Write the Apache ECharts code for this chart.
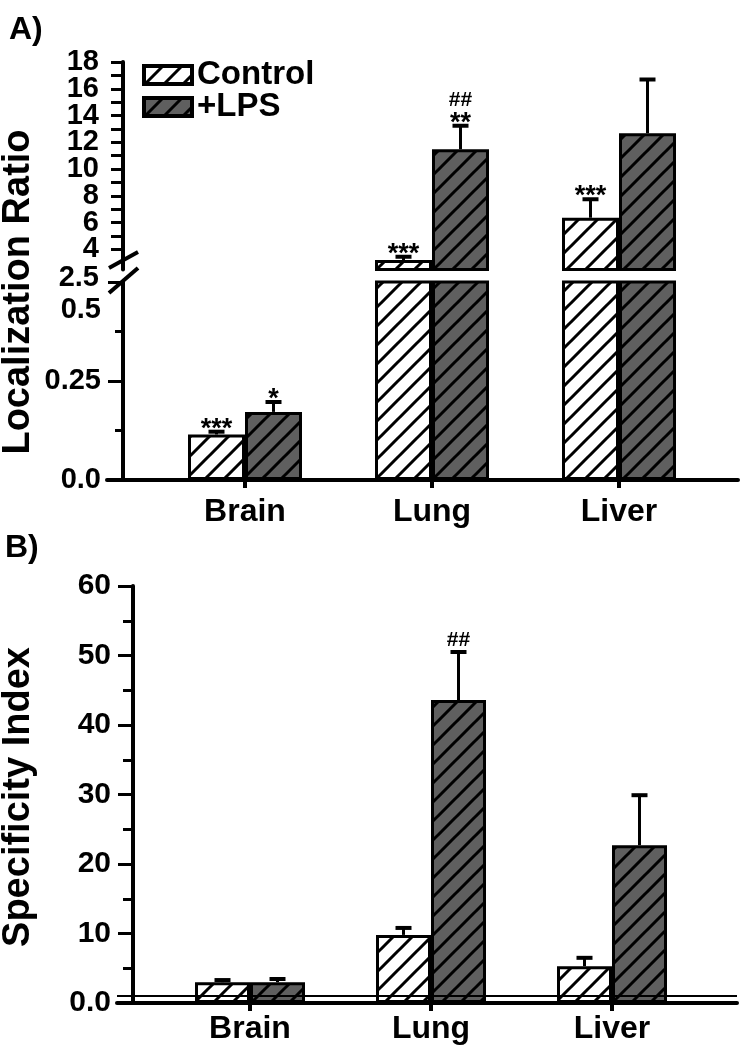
<!DOCTYPE html>
<html><head><meta charset="utf-8">
<script src="https://cdn.jsdelivr.net/npm/echarts@6/dist/echarts.min.js"></script>
<style>html,body{margin:0;padding:0;background:#fff}#c{width:742px;height:1050px}</style>
</head><body><div id="c"></div>
<script>
// ---------------- data ----------------
const categories = ['Brain', 'Lung', 'Liver'];
const seriesNames = ['Control', '+LPS'];

// Panel A: Localization Ratio (bar mean, top of error bar)
const ratioControl = [0.115, 3.21, 6.37];
const ratioControlErrTop = [0.122, 3.46, 7.75];
const ratioLPS = [0.172, 11.48, 12.67];
const ratioLPSErrTop = [0.197, 13.24, 16.7];
const ratioControlMarks = [['***'], ['***'], ['***']];
const ratioLPSMarks = [['*'], ['##', '**'], []];
const ratioLowerRange = [0, 0.5];
const ratioUpperRange = [2.5, 18];
const ratioUpperLabelValues = [2.5, 4, 6, 8, 10, 12, 14, 16, 18];
const ratioUpperTickValues = [4, 5, 6, 7, 8, 9, 10, 11, 12, 13, 14, 15, 16, 17, 18];

// Panel B: Specificity Index
const specControl = [3.0, 9.8, 5.3];
const specControlErrTop = [3.3, 10.8, 6.5];
const specLPS = [3.0, 43.6, 22.7];
const specLPSErrTop = [3.45, 50.5, 29.9];
const specControlMarks = [[], [], []];
const specLPSMarks = [[], ['##'], []];
const specRange = [0, 60];
const specReference = 1;

// ---------------- styles ----------------
const FONT = 'Liberation Sans, Arial, Helvetica, sans-serif';
const GRAY = '#5f5f5f';
function hatch(bg) {
  const S = 19;
  const c = document.createElement('canvas');
  c.width = S; c.height = S;
  const g = c.getContext('2d');
  g.fillStyle = bg; g.fillRect(0, 0, S, S);
  g.strokeStyle = '#000'; g.lineWidth = 3;
  g.beginPath();
  for (const k of [-S, 0, S]) { g.moveTo(k - 1, S + 1); g.lineTo(k + S + 1, -1); }
  g.stroke();
  return c;
}
const fills = [hatch('#ffffff'), hatch(GRAY)];

// layout
const A_LEFT = 151.5, A_RIGHT = 29.5, A_AXIS_X = 123;
const A_UP_TOP = 62, A_UP_BOTTOM_Y = 269.5, A_LOW_TOP = 282, A_LOW_BOTTOM_Y = 480;
const B_LEFT = 159.5, B_RIGHT = 39.5, B_AXIS_X = 133, B_TOP = 586, B_BOTTOM_Y = 1003;
const H = 1050;
const A_BAR = 57, B_BAR = 55;

// upper-segment labels split over stacked axes so crowded labels are all kept
const upperBreakLabel = ratioUpperLabelValues.filter(v => v === ratioUpperRange[0]);
const upperRest = ratioUpperLabelValues.filter(v => v !== ratioUpperRange[0]);
const upperLabelsP = upperRest.filter((_, i) => i % 2 === 1);
const upperLabelsQ = upperRest.filter((_, i) => i % 2 === 0);

function bar(nameIdx, xi, yi, values, barW) {
  return {
    type: 'bar', name: seriesNames[nameIdx], xAxisIndex: xi, yAxisIndex: yi,
    data: values, barWidth: barW, barGap: '0%', clip: true,
    itemStyle: { color: { image: fills[nameIdx], repeat: 'repeat' }, borderColor: '#000', borderWidth: 3 },
    emphasis: { disabled: true }, z: 2
  };
}

function errSeries(xi, yi, means, tops, marks, side, barW) {
  return {
    type: 'custom', xAxisIndex: xi, yAxisIndex: yi, clip: true, z: 5,
    data: means.map((m, i) => [i, m, tops[i]]),
    encode: { x: 0, y: [1, 2] },
    renderItem: function (params, api) {
      const i = params.dataIndex;
      const cat = api.value(0);
      const p0 = api.coord([cat, api.value(1)]);
      const p1 = api.coord([cat, api.value(2)]);
      const x = p0[0] + side * barW / 2;
      const children = [
        { type: 'line', shape: { x1: x, y1: p0[1], x2: x, y2: p1[1] }, style: { stroke: '#000', lineWidth: 3 } },
        { type: 'line', shape: { x1: x - 8, y1: p1[1], x2: x + 8, y2: p1[1] }, style: { stroke: '#000', lineWidth: 4 } }
      ];
      let cursor = p1[1];
      const list = marks[i] || [];
      for (let k = list.length - 1; k >= 0; k--) {
        const s = list[k];
        const star = s[0] === '*';
        let vis, ty;
        if (star) { vis = cursor - 9; ty = vis + 6.5; cursor = vis - 5; }
        else { vis = cursor - 12; ty = vis; cursor = vis - 7; }
        children.push({
          type: 'text', x: x, y: ty,
          style: { text: s, fill: '#000', font: 'bold ' + (star ? 27 : 21) + 'px ' + FONT,
                   align: 'center', verticalAlign: 'middle', textAlign: 'center', textVerticalAlign: 'middle' }
        });
      }
      return { type: 'group', children: children };
    }
  };
}

const catAxisLabels = (margin) => ({
  type: 'category', data: categories,
  axisLine: { show: false },
  axisTick: { show: true, alignWithLabel: true, length: 8, lineStyle: { color: '#000', width: 4 } },
  axisLabel: { margin: margin, color: '#000', fontSize: 32, fontWeight: 'bold', fontFamily: FONT },
  splitLine: { show: false }
});

const tickLabelStyle = { color: '#000', fontSize: 29, fontWeight: 'bold', fontFamily: FONT };

function upperLabelAxis(values, withLine) {
  return {
    type: 'value', gridIndex: 0, position: 'left', min: ratioUpperRange[0], max: ratioUpperRange[1], offset: A_LEFT - A_AXIS_X,
    axisLine: { show: withLine, lineStyle: { color: '#000', width: 4 } },
    axisTick: withLine ? { show: true, customValues: ratioUpperTickValues, length: 12, lineStyle: { color: '#000', width: 3 } } : { show: false },
    axisLabel: Object.assign({ customValues: values, showMinLabel: true, showMaxLabel: true, margin: 24, lineHeight: 17,
      formatter: v => (v === ratioUpperRange[0] ? '\n' + v : String(v)) }, tickLabelStyle),
    splitLine: { show: false }
  };
}

const option = {
  animation: false,
  backgroundColor: '#fff',
  title: [
    { text: 'A)', left: 4, top: 9, textStyle: { fontSize: 32, fontWeight: 'bold', fontFamily: FONT, color: '#000' } },
    { text: 'B)', left: 0, top: 527, textStyle: { fontSize: 32, fontWeight: 'bold', fontFamily: FONT, color: '#000' } }
  ],
  legend: {
    data: seriesNames, orient: 'vertical', left: 142, top: 58.5, padding: 0,
    itemWidth: 48, itemHeight: 18, itemGap: -1, selectedMode: false, icon: 'rect',
    itemStyle: { borderWidth: 4, borderColor: '#000' },
    textStyle: { fontSize: 33, fontWeight: 'bold', fontFamily: FONT, color: '#000' }
  },
  grid: [
    { left: A_LEFT, right: A_RIGHT, top: A_UP_TOP, bottom: H - A_UP_BOTTOM_Y },
    { left: A_LEFT, right: A_RIGHT, top: A_LOW_TOP, bottom: H - A_LOW_BOTTOM_Y },
    { left: 107, right: 4, top: A_LOW_TOP, bottom: H - A_LOW_BOTTOM_Y },
    { left: B_LEFT, right: B_RIGHT, top: B_TOP, bottom: H - B_BOTTOM_Y },
    { left: 117, right: 5, top: B_TOP, bottom: H - B_BOTTOM_Y }
  ],
  xAxis: [
    { type: 'category', data: categories, gridIndex: 0, show: false },
    Object.assign(catAxisLabels(16), { gridIndex: 1 }),
    { type: 'value', gridIndex: 2, min: 0, max: 1, axisLine: { show: true, lineStyle: { color: '#000', width: 4 } },
      axisTick: { show: false }, axisLabel: { show: false }, splitLine: { show: false } },
    Object.assign(catAxisLabels(10), { gridIndex: 3 }),
    { type: 'value', gridIndex: 4, min: 0, max: 1, axisLine: { show: true, lineStyle: { color: '#000', width: 4 } },
      axisTick: { show: false }, axisLabel: { show: false }, splitLine: { show: false } }
  ],
  yAxis: [
    upperLabelAxis(upperLabelsP, true),
    { type: 'value', gridIndex: 1, position: 'left', min: ratioLowerRange[0], max: ratioLowerRange[1], interval: 0.25, offset: A_LEFT - A_AXIS_X,
      axisLine: { show: true, lineStyle: { color: '#000', width: 4 } },
      axisTick: { show: true, length: 15, lineStyle: { color: '#000', width: 3 } },
      minorTick: { show: true, splitNumber: 2, length: 8, lineStyle: { color: '#000', width: 3 } },
      axisLabel: Object.assign({ showMinLabel: true, showMaxLabel: true, margin: 22, lineHeight: 56,
        formatter: v => (v === 0 ? '0.0' : (v === ratioLowerRange[1] ? '\n' + v : String(v))) }, tickLabelStyle),
      splitLine: { show: false }, minorSplitLine: { show: false } },
    { type: 'value', gridIndex: 2, min: ratioLowerRange[0], max: ratioLowerRange[1], show: false },
    { type: 'value', gridIndex: 3, position: 'left', min: specRange[0], max: specRange[1], interval: 10, offset: B_LEFT - B_AXIS_X,
      axisLine: { show: true, lineStyle: { color: '#000', width: 4 } },
      axisTick: { show: true, length: 15, lineStyle: { color: '#000', width: 3 } },
      minorTick: { show: true, splitNumber: 2, length: 10, lineStyle: { color: '#000', width: 3 } },
      axisLabel: Object.assign({ showMinLabel: true, showMaxLabel: true, margin: 22,
        formatter: v => (v === 0 ? '0.0' : String(v)) }, tickLabelStyle, { fontSize: 30 }),
      splitLine: { show: false }, minorSplitLine: { show: false } },
    { type: 'value', gridIndex: 4, min: specRange[0], max: specRange[1], show: false },
    upperLabelAxis(upperLabelsQ, false),
    upperLabelAxis(upperBreakLabel, false)
  ],
  series: [
    bar(0, 0, 0, ratioControl, A_BAR),
    bar(1, 0, 0, ratioLPS, A_BAR),
    bar(0, 1, 1, ratioControl, A_BAR),
    bar(1, 1, 1, ratioLPS, A_BAR),
    bar(0, 3, 3, specControl, B_BAR),
    bar(1, 3, 3, specLPS, B_BAR),
    errSeries(0, 0, ratioControl, ratioControlErrTop, ratioControlMarks, -1, A_BAR),
    errSeries(0, 0, ratioLPS, ratioLPSErrTop, ratioLPSMarks, 1, A_BAR),
    errSeries(1, 1, ratioControl, ratioControlErrTop, ratioControlMarks, -1, A_BAR),
    errSeries(1, 1, ratioLPS, ratioLPSErrTop, ratioLPSMarks, 1, A_BAR),
    errSeries(3, 3, specControl, specControlErrTop, specControlMarks, -1, B_BAR),
    errSeries(3, 3, specLPS, specLPSErrTop, specLPSMarks, 1, B_BAR),
    { type: 'line', xAxisIndex: 4, yAxisIndex: 4, data: [[0, specReference], [1, specReference]],
      symbol: 'none', lineStyle: { color: '#000', width: 2 }, z: 6, silent: true }
  ],
  graphic: [
    { type: 'line', shape: { x1: A_AXIS_X - 14, y1: 268, x2: A_AXIS_X + 15, y2: 252 }, style: { stroke: '#000', lineWidth: 4 }, z: 10 },
    { type: 'line', shape: { x1: A_AXIS_X - 14, y1: 293, x2: A_AXIS_X + 15, y2: 268 }, style: { stroke: '#000', lineWidth: 4 }, z: 10 },
    { type: 'text', x: 19, y: 292, rotation: Math.PI / 2,
      style: { text: 'Localization Ratio', font: 'bold 38px ' + FONT, fill: '#000', align: 'center', verticalAlign: 'middle', textAlign: 'center', textVerticalAlign: 'middle' } },
    { type: 'text', x: 19, y: 797, rotation: Math.PI / 2,
      style: { text: 'Specificity Index', font: 'bold 38px ' + FONT, fill: '#000', align: 'center', verticalAlign: 'middle', textAlign: 'center', textVerticalAlign: 'middle' } }
  ]
};

const chart = echarts.init(document.getElementById('c'), null, { renderer: 'canvas' });
chart.setOption(option);
</script>
</body></html>
